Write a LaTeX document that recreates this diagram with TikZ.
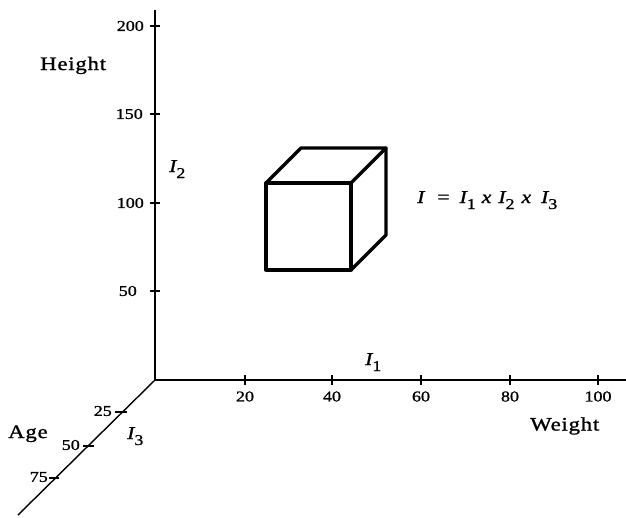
\documentclass[tikz,border=0pt]{standalone}
\usepackage{fontspec}
\setmainfont{Liberation Serif}
\newfontfamily\tickfont[FakeStretch=1.2,FakeBold=1.2]{Liberation Serif}
\newfontfamily\labfont[FakeStretch=1.2,FakeBold=1.2,LetterSpace=4]{Liberation Serif}
\newfontfamily\eqfont[FakeStretch=1.2,FakeBold=1]{Liberation Serif}
\newcommand\subsc[1]{\raisebox{-6pt}{\fontsize{15}{15}\selectfont\upshape #1}}
\begin{document}
\begin{tikzpicture}[x=1pt,y=-1pt,
  axis/.style={line width=1.4pt},
  tickmark/.style={line width=1.1pt},
  ticklbl/.style={font=\tickfont\fontsize{15}{15}\selectfont, inner sep=0pt},
  axlbl/.style={font=\labfont\fontsize{19}{19}\selectfont, inner sep=0pt},
  ilbl/.style={font=\eqfont\fontsize{18}{18}\selectfont\itshape, inner sep=0pt},
  cubeedge/.style={line width=3.3pt, line join=round, line cap=round}]
\useasboundingbox (0,0) rectangle (626,517);
% axes
\coordinate (O) at (155,380);
\coordinate (ytop) at (155,10);
\coordinate (xend) at (626,380);
\coordinate (zend) at (18,515);
\draw[axis] (ytop) -- (O) -- (xend);
\draw[axis] (O) -- (zend);
% vertical ticks
\foreach \y in {26,114,203,291} \draw[tickmark] (150,\y) -- (160,\y);
\node[ticklbl, anchor=east] (h200) at (144,26) {200};
\node[ticklbl, anchor=east] (h150) at (143,114) {150};
\node[ticklbl, anchor=east] (h100) at (144,203) {100};
\node[ticklbl, anchor=east] (h50) at (137,291) {50};
% horizontal ticks
\foreach \x/\v in {245/20,332/40,421/60,510/80,598/100} {
  \draw[tickmark] (\x,375) -- (\x,385);
  \node[ticklbl] (w\v) at (\x,396.5) {\v};
}
% depth ticks
\draw[tickmark] (115,412) -- (127,412);
\draw[tickmark] (83,446) -- (94,446);
\draw[tickmark] (49,478) -- (59,478);
\node[ticklbl, anchor=east] (a25) at (112,411) {25};
\node[ticklbl, anchor=east] (a50) at (80,445) {50};
\node[ticklbl, anchor=east] (a75) at (48,477) {75};
% axis labels
\node[axlbl, anchor=base west] (height) at (40,70) {Height};
\node[axlbl, anchor=base west] (weight) at (530,430.5) {Weight};
\node[axlbl, anchor=base west] (age) at (8,438) {Age};
\node[ilbl, anchor=base west] (i2) at (169,172) {I\subsc{2}};
\node[ilbl, anchor=base west] (i1) at (365,365) {I\subsc{1}};
\node[ilbl, anchor=base west] (i3) at (127,439) {I\subsc{3}};
% cube
\coordinate (f1) at (266,183);
\coordinate (f2) at (351,183);
\coordinate (f3) at (351,270);
\coordinate (f4) at (266,270);
\coordinate (b1) at (301,148);
\coordinate (b2) at (386,148);
\coordinate (b3) at (386,235);
\draw[cubeedge] (f1) -- (f2) -- (f3) -- (f4) -- cycle;
\draw[cubeedge] (f1) -- (b1) -- (b2) -- (f2);
\draw[cubeedge] (b2) -- (b3) -- (f3);
% equation
\node[ilbl, anchor=base west] (eq) at (417,203)
  {I\hspace{13pt}\upshape=\hspace{10pt}\itshape I\subsc{1}\hspace{6pt}x\hspace{7pt}I\subsc{2}\hspace{7pt}x\hspace{10pt}I\subsc{3}};
\end{tikzpicture}
\end{document}
